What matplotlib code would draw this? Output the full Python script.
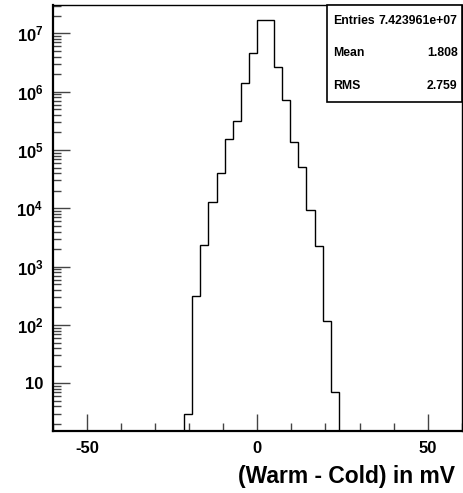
import numpy as np
import matplotlib.pyplot as plt
from matplotlib.ticker import FixedLocator, FuncFormatter, LogLocator, NullFormatter, MultipleLocator

plt.rcParams['font.family'] = 'Liberation Sans'
plt.rcParams['font.weight'] = 'bold'
plt.rcParams['mathtext.fontset'] = 'custom'
plt.rcParams['mathtext.rm'] = 'Liberation Sans:bold'
plt.rcParams['mathtext.bf'] = 'Liberation Sans:bold'

# histogram bin edges (mV) and counts
edges = [-21.6, -19.2, -16.8, -14.4, -12.0, -9.6, -7.2, -4.8, -2.4, 0.0,
         2.4, 4.8, 7.2, 9.6, 12.0, 14.4, 16.8, 19.2, 21.6, 24.0]
counts = [3, 318, 2350, 13000, 39800, 152000, 318000, 1390000, 4600000,
          16900000, 16900000, 2670000, 720000, 139000, 50500, 9350, 2260, 118, 7]

stats_names = ['Entries', 'Mean', 'RMS']
stats_values = ['7.423961e+07', '1.808', '2.759']

fig = plt.figure(figsize=(4.63, 4.93), dpi=100)
ax = fig.add_axes([0.115, 0.1258, 0.882, 0.8647])

ax.stairs(counts, edges, baseline=0.1, color='black', linewidth=1.0)

ax.set_yscale('log')
ax.set_xlim(-60, 60)
ax.set_ylim(1.52, 3.1e7)

# ticks
ax.xaxis.set_major_locator(FixedLocator([-50, 0, 50]))
ax.xaxis.set_minor_locator(MultipleLocator(10))
ax.yaxis.set_major_locator(FixedLocator([1e1, 1e2, 1e3, 1e4, 1e5, 1e6, 1e7]))
ax.yaxis.set_minor_locator(LogLocator(base=10, subs=np.arange(2, 10), numticks=20))
ax.yaxis.set_minor_formatter(NullFormatter())


def ylab(v, pos):
    e = int(round(np.log10(v)))
    if e == 1:
        return '10'
    return r'$\mathbf{10^{%d}}$' % e


ax.yaxis.set_major_formatter(FuncFormatter(ylab))
ax.xaxis.set_major_formatter(FuncFormatter(lambda v, p: '%d' % v))

ax.tick_params(which='both', direction='in', top=False, right=False, color='#444444')
ax.tick_params(which='major', length=12, width=1, labelsize=12, pad=7)
ax.tick_params(which='minor', length=6, width=1)
for lab in ax.get_xticklabels() + ax.get_yticklabels():
    lab.set_fontweight('bold')

for s in ax.spines.values():
    s.set_linewidth(1.0)
ax.spines['left'].set_linewidth(1.6)
ax.spines['bottom'].set_linewidth(1.6)

fig.text(455 / 463, 1 - 476 / 493, '(Warm - Cold) in mV', ha='right', va='center',
         fontsize=16.5, fontweight='bold')

# statistics box
bx0, by0, bx1, by1 = 327 / 463, 1 - 102 / 493, 461.7 / 463, 1 - 4.7 / 493
fig.patches.append(plt.Rectangle((bx0, by0), bx1 - bx0, by1 - by0, transform=fig.transFigure,
                                 facecolor='white', edgecolor='black', linewidth=1.2, zorder=5))
rows_y = [21, 53, 86]
for name, val, yy in zip(stats_names, stats_values, rows_y):
    fig.text(333.5 / 463, 1 - yy / 493, name, ha='left', va='center', fontsize=8.8, fontweight='bold', zorder=6)
    fig.text(457.5 / 463, 1 - yy / 493, val, ha='right', va='center', fontsize=8.8, fontweight='bold', zorder=6)

fig.savefig('out.png', dpi=100)
